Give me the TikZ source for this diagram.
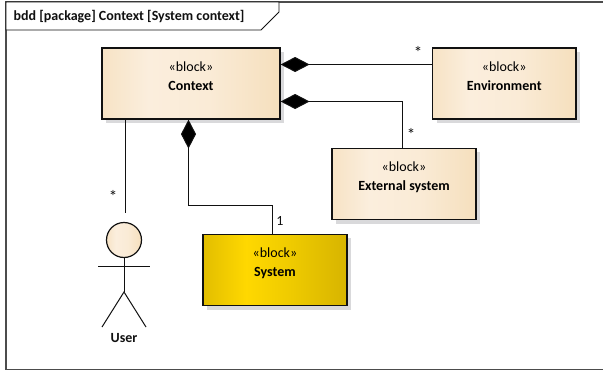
\documentclass[tikz,border=0pt]{standalone}
\usepackage{fontspec}
\setmainfont{Carlito}
\usetikzlibrary{arrows.meta,calc}
\definecolor{blockA}{HTML}{F7E3C5}
\definecolor{blockB}{HTML}{FBEEDD}
\definecolor{blockC}{HTML}{FAEBD6}
\definecolor{blockD}{HTML}{F5DFBD}
\definecolor{sysA}{HTML}{E2BE00}
\definecolor{sysB}{HTML}{FFD800}
\definecolor{sysC}{HTML}{EFCB00}
\definecolor{sysD}{HTML}{D7B400}
\definecolor{shadowc}{HTML}{D9D9DB}
\definecolor{linec}{HTML}{111111}
\pgfdeclarehorizontalshading{blockfill}{100bp}{color(0bp)=(blockA); color(25bp)=(blockA); color(38bp)=(blockB); color(55bp)=(blockC); color(75bp)=(blockD); color(100bp)=(blockD)}
\pgfdeclarehorizontalshading{sysfill}{100bp}{color(0bp)=(sysA); color(25bp)=(sysA); color(40bp)=(sysB); color(55bp)=(sysC); color(75bp)=(sysD); color(100bp)=(sysD)}
\tikzset{
  conn/.style={draw=linec,line width=1pt},
  comp/.style={conn,{Diamond[length=29pt,width=15pt,fill=black]}-},
  blockbox/.style={draw=linec,line width=1.2pt,minimum width=#1,minimum height=71pt,inner sep=0pt,
    shading=blockfill,shading angle=0,align=center,font=\fontsize{14}{19}\selectfont},
  mult/.style={font=\fontsize{14}{16}\selectfont,inner sep=0pt,text=linec},
  star/.style={font=\fontsize{17}{17}\selectfont,inner sep=0pt,text=linec},
  shadowbox/.style={fill=shadowc,draw=none},
  stick/.style={draw=linec,line width=1pt},
}
\newcommand{\blocktext}[1]{\guillemotleft block\guillemotright\\\textbf{#1}\\[-4pt]\mbox{}}
\begin{document}
\begin{tikzpicture}[x=1pt,y=-1pt]
\useasboundingbox (0,0) rectangle (603,372);
\fill[white] (0,0) rectangle (603,372);
% frame
\draw[draw=linec!75,line width=1.2pt] (603,2) -- (6,2) -- (6,369.5) -- (603,369.5);
\draw[draw=linec,line width=0.9pt,fill=white] (6,2) -- (279,2) -- (279,12) -- (261,30) -- (6,30) -- cycle;
\node[anchor=west,inner sep=0pt,font=\fontsize{14}{16}\selectfont\bfseries,text=linec] (title) at (13.5,16.5) {bdd [package] Context [System context]};
% shadows
\fill[shadowbox] (106,52) rectangle (284,123);
\fill[shadowbox] (436.5,52) rectangle (580,123);
\fill[shadowbox] (336,152) rectangle (480,224);
\fill[shadowbox] (207,238) rectangle (351,310);
% blocks
\node[blockbox=178pt] (ctx) at (191,83.5) {\blocktext{Context}};
\node[blockbox=143.5pt] (env) at (504.25,83.5) {\blocktext{Environment}};
\node[blockbox=144pt] (ext) at (404,184) {\blocktext{External system}};
\node[blockbox=144pt,shading=sysfill] (sys) at (275,270) {\blocktext{System}};
% actor
\node[circle,draw=linec,line width=1.2pt,minimum size=35pt,inner sep=0pt,shading=blockfill,shading angle=0] (head) at (124,240) {};
\coordinate (armL) at (98,266);
\coordinate (armR) at (150,266);
\coordinate (hip) at (124,292);
\coordinate (footL) at (102,327);
\coordinate (footR) at (146,327);
\draw[stick] (head.south) -- (hip);
\draw[stick] (armL) -- (armR);
\draw[stick] (footL) -- (hip) -- (footR);
\node[font=\fontsize{14}{16}\selectfont\bfseries,inner sep=0pt,text=linec] (user) at (124,338.5) {User};
% connectors
\coordinate (userend) at (125,213);
\draw[conn] (ctx.south -| userend) -- (userend);
\draw[comp] (ctx.east |- 0,64.5) -- (env.west |- 0,64.5);
\draw[comp] (ctx.east |- 0,101.5) -- (402,101.5) -- (ext.north -| 402,0);
\draw[comp] (ctx.south -| 188.5,0) -- (188.5,205) -- (272,205) -- (sys.north -| 272,0);
% multiplicities
\node[star] (m1) at (418,52) {*};
\node[star] (m2) at (411,134) {*};
\node[star] (m3) at (113,196) {*};
\node[mult] (m4) at (280,220.5) {1};
\end{tikzpicture}
\end{document}
